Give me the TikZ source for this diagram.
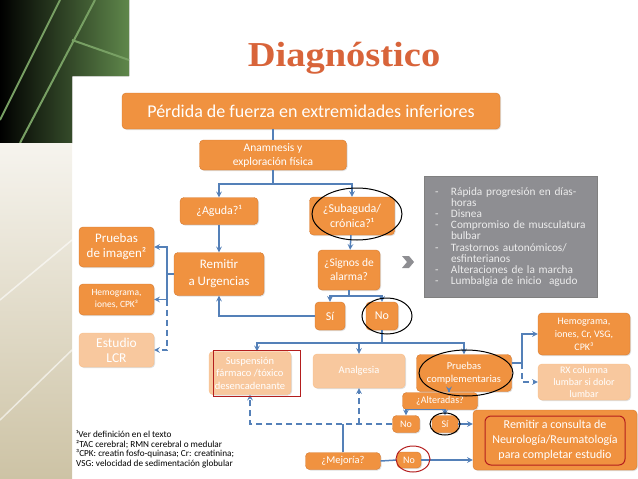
\documentclass[tikz,border=0pt]{standalone}
\usepackage{fontspec}
\setmainfont{Carlito}
\newfontfamily\titlefont{Liberation Serif}
\usepackage{xcolor}
\usepackage{tikz}
\usetikzlibrary{shapes.geometric, arrows, shadows}
\definecolor{boxorange}{RGB}{240,146,64}
\definecolor{boxedge}{RGB}{214,122,48}
\definecolor{boxfaded}{RGB}{248,200,158}
\definecolor{linkblue}{RGB}{84,128,184}
\definecolor{greynote}{RGB}{142,142,146}
\definecolor{titleorange}{RGB}{216,100,58}
\definecolor{markred}{RGB}{180,30,30}
\definecolor{slidegreen}{RGB}{95,135,75}
\definecolor{slidestroke}{RGB}{120,160,100}
\definecolor{slidepale}{RGB}{246,244,238}
\definecolor{slidebeige}{RGB}{205,195,165}
\tikzstyle{orangebox} = [rectangle, rounded corners=4pt, align=center, inner sep=1pt, draw=boxedge, fill=boxorange, text=white, drop shadow={opacity=0.25, shadow xshift=1pt, shadow yshift=-1pt}]
\tikzstyle{fadedbox} = [orangebox, draw=boxfaded!85!orange, fill=boxfaded]
\tikzstyle{link} = [line width=1.5pt, draw=linkblue]
\tikzstyle{arrow} = [link, ->, >=stealth]
\tikzstyle{dasharrow} = [arrow, dash pattern=on 6pt off 4pt]
\tikzstyle{circled} = [line width=1pt, draw=black]
\newcommand{\fs}[2]{\fontsize{#1}{#2}\selectfont}
\newcommand{\itemline}[1]{\mbox{\makebox[16pt][l]{-}#1}}
\newcommand{\contline}[1]{\mbox{\hspace*{16pt}#1}}

\begin{document}
\begin{tikzpicture}[x=1pt, y=-1pt]
  \useasboundingbox (0,0) rectangle (638,479);
  % slide background
  \fill[left color=black, right color=slidegreen] (0,0) -- (129,0) -- (129,76) -- (72,76) -- (72,143) -- (0,143) -- cycle;
  \draw[slidestroke, line width=2pt] (0,120) -- (60,0) (20,143) -- (95,0) (72,40) -- (129,60);
  \fill[top color=slidepale, bottom color=slidebeige] (0,143) rectangle (72,479);
  \draw[white, line width=1.5pt, opacity=0.6] (0,300) -- (72,240) (0,420) -- (72,350);

  \node (title) at (344,58) [text=titleorange, xscale=1.1, font=\titlefont\bfseries\fs{35}{40}] {Diagnóstico};

  % main flow
  \node (top) [orangebox, minimum width=378pt, minimum height=36pt, font=\fs{18}{20}] at (311,111) {Pérdida de fuerza en extremidades inferiores};
  \node (anam) [orangebox, minimum width=147pt, minimum height=30pt, font=\fs{11.5}{14}] at (273,155) {Anamnesis y\\exploración física};
  \draw [link] (anam.north |- top.south) -- (anam.north);
  \coordinate (split1) at (273,184);
  \node (aguda) [orangebox, minimum width=78pt, minimum height=27pt, font=\fs{12}{14}] at (219,211) {¿Aguda?¹};
  \node (subag) [orangebox, minimum width=85pt, minimum height=38pt, font=\fs{12}{15}] at (352,216) {¿Subaguda/\\crónica?¹};
  \draw [link] (anam.south) -- (split1);
  \draw [arrow] (split1) -| (aguda.north);
  \draw [arrow] (split1) -| (subag.north);

  \node (alarma) [rectangle, fill=greynote, draw=gray, text=white!85!gray, minimum width=173pt, minimum height=121pt, text width=152pt, align=left, font=\fs{11.3}{11.2}] at (511,237) {%
    \itemline{Rápida progresión en días-}\\
    \contline{horas}\\
    \itemline{Disnea}\\
    \itemline{Compromiso de musculatura}\\
    \contline{bulbar}\\
    \itemline{Trastornos autonómicos/}\\
    \contline{esfinterianos}\\
    \itemline{Alteraciones de la marcha}\\
    \itemline{Lumbalgia de inicio\ \ agudo}};
  \fill[greynote] (402,256) -- (409,256) -- (414,262) -- (409,268) -- (402,268) -- (407,262) -- cycle;

  \node (remitir) [orangebox, minimum width=90pt, minimum height=43pt, font=\fs{13}{17}] at (219,274) {Remitir\\a Urgencias};
  \draw [arrow] (aguda) -- (remitir);
  \node (signos) [orangebox, minimum width=62pt, minimum height=40pt, font=\fs{11.5}{14}] at (349,270) {¿Signos de\\alarma?};
  \draw [arrow] (subag) -- (signos);
  \coordinate (split2) at (349,296);
  \node (si1) [orangebox, minimum width=30pt, minimum height=28pt, font=\fs{12}{14}] at (330,316) {Sí};
  \node (no1) [orangebox, minimum width=32pt, minimum height=28pt, font=\fs{12}{14}] at (382,316) {No};
  \draw [link] (signos.south) -- (split2);
  \draw [arrow] (split2) -| (si1.north);
  \draw [arrow] (split2) -| (no1.north);
  \draw [arrow] (si1.west) -| (remitir.south);

  % left column
  \node (imagen) [orangebox, minimum width=75pt, minimum height=40pt, font=\fs{13}{15}] at (116.5,247) {Pruebas\\de imagen²};
  \node (hemo1) [orangebox, minimum width=75pt, minimum height=31pt, font=\fs{9.5}{12}] at (116.5,299.5) {Hemograma,\\iones, CPK³};
  \node (lcr) [fadedbox, minimum width=75pt, minimum height=34pt, font=\fs{13.5}{15}] at (116.5,350) {Estudio\\LCR};
  \coordinate (bus1) at (167,274);
  \coordinate (bus2) at (167,299.5);
  \draw [link] (remitir.west) -- (bus1);
  \draw [arrow] (bus1) |- (imagen.east);
  \draw [arrow] (bus1) |- (hemo1.east);
  \draw [dasharrow] (bus2) |- (lcr.east);

  % second level
  \coordinate (split3) at (382,343);
  \node (susp) [fadedbox, minimum width=82pt, minimum height=43pt, font=\fs{10.5}{12.5}] at (250,373) {Suspensión\\fármaco /tóxico\\desencadenante};
  \node (analg) [fadedbox, minimum width=92pt, minimum height=34pt, font=\fs{10.5}{13}] at (359,371) {Analgesia};
  \node (pcompl) [orangebox, minimum width=95pt, minimum height=37pt, font=\fs{10.5}{13}] at (464,373) {Pruebas\\complementarias};
  \draw [link] (no1.south) -- (split3);
  \draw [arrow] (split3) -| ([xshift=7pt]susp.north);
  \draw [arrow] (split3) -| (analg.north);
  \draw [arrow] (split3) -| (pcompl.north);

  \node (hemo2) [orangebox, minimum width=92pt, minimum height=42pt, font=\fs{10}{13}] at (584,334) {Hemograma,\\iones, Cr, VSG,\\CPK³};
  \node (rx) [fadedbox, minimum width=92pt, minimum height=36pt, font=\fs{10}{12}] at (584,382) {RX columna\\lumbar si dolor\\lumbar};
  \coordinate (split4) at (522,363);
  \draw [link] ([yshift=10pt]pcompl.east) -- (split4);
  \draw [arrow] (split4) |- (hemo2.west);
  \draw [dasharrow] (split4) |- (rx.west);

  \node (alter) [orangebox, minimum width=75pt, minimum height=17pt, font=\fs{10}{12}] at (440,401) {¿Alteradas?};
  \draw [arrow] ([xshift=9pt]alter.north |- pcompl.south) -- ([xshift=9pt]alter.north);
  \node (no2) [orangebox, minimum width=27pt, minimum height=17pt, font=\fs{10}{12}] at (406,424) {No};
  \node (si2) [orangebox, minimum width=26pt, minimum height=17pt, font=\fs{10}{12}] at (445,424) {Sí};
  \draw [arrow] (alter.south) -| (no2.north);
  \draw [arrow] (alter.south) -| (si2.north);

  \node (consulta) [orangebox, minimum width=164pt, minimum height=60pt, font=\fs{12}{15}] at (555,440) {Remitir a consulta de\\Neurología/Reumatología\\para completar estudio};
  \draw [arrow] (si2.east) -- (si2.east -| consulta.west);
  \draw [dasharrow] (no2.west) -| (susp.south);
  \draw [dasharrow] (no2.west -| analg.south) -- (analg.south);

  \node (mejoria) [orangebox, minimum width=75pt, minimum height=17pt, font=\fs{10.5}{12}] at (343,461) {¿Mejoría?};
  \node (no3) [orangebox, minimum width=24pt, minimum height=16pt, font=\fs{10}{12}] at (409,460) {No};
  \draw [link] (mejoria.north) -- (mejoria.north |- no2.west);
  \draw [link] (mejoria.east) -- (no3.west);
  \draw [arrow] (no3.east) -- (no3.east -| consulta.west);

  % highlights
  \draw [circled] (357,214) ellipse [x radius=45pt, y radius=26pt];
  \draw [circled] (387,316) ellipse [x radius=25pt, y radius=18pt];
  \draw [circled] (466,373) ellipse [x radius=47pt, y radius=23pt];
  \draw [circled] (445,424) ellipse [x radius=15pt, y radius=11pt];
  \draw [markred, line width=1pt] (413,459) ellipse [x radius=17pt, y radius=13pt];
  \draw [markred, line width=1pt] (213,350) rectangle (300,396);
  \draw [markred, line width=1pt, rounded corners=6pt] (485,416) rectangle (625,465);

  \node (notas) [anchor=north west, align=left, inner sep=0pt, font=\fs{9.2}{9.8}] at (76,430) {¹Ver definición en el texto\\²TAC cerebral; RMN cerebral o medular\\³CPK: creatin fosfo-quinasa; Cr: creatinina;\\VSG: velocidad de sedimentación globular};
\end{tikzpicture}
\end{document}
